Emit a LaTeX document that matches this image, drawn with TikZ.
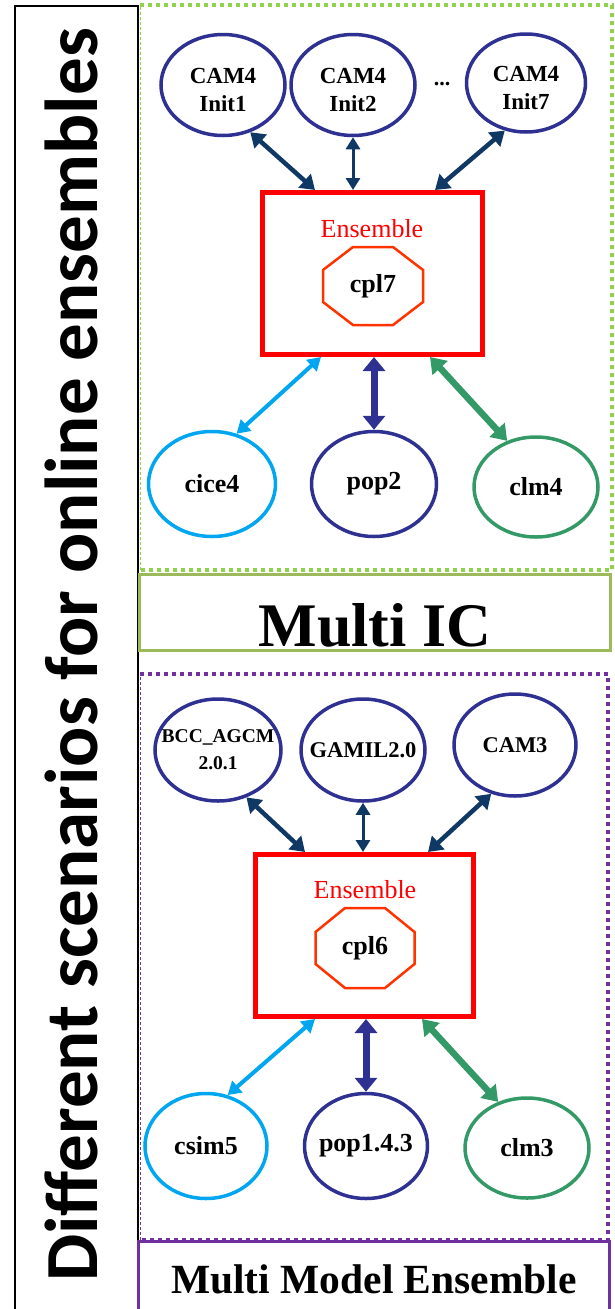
\documentclass[tikz,border=0pt]{standalone}
\usepackage{fontspec}
\setmainfont{Liberation Serif}
\newfontfamily\calib{Carlito}
\usetikzlibrary{shapes.geometric,arrows.meta,calc}
\definecolor{navy}{RGB}{46,49,146}
\definecolor{darrow}{RGB}{16,56,100}
\definecolor{lblue}{RGB}{0,166,240}
\definecolor{mgreen}{RGB}{51,153,102}
\definecolor{dgreen}{RGB}{146,208,80}
\definecolor{sgreen}{RGB}{155,187,89}
\definecolor{purp}{RGB}{112,48,160}
\definecolor{octred}{RGB}{255,51,0}
\newcommand\zw[1]{\makebox[0pt]{#1}}
\newcommand\topline[1]{\makebox[0pt]{\rule{0pt}{26pt}#1}}
\begin{document}
\begin{tikzpicture}[x=1pt,y=-1pt,
  mdl/.style={ellipse,draw=navy,line width=3.5pt,inner sep=0pt,align=center,
    font=\bfseries\fontsize{23}{28}\selectfont,minimum width=124pt,minimum height=101pt},
  lowmdl/.style={mdl,font=\bfseries\fontsize{26}{28}\selectfont,minimum width=124pt,minimum height=104pt},
  ensbox/.style={draw=red,line width=5pt,inner sep=0pt,minimum width=220pt,minimum height=162pt},
  enslabel/.style={anchor=base,text=red,inner sep=0pt,font=\fontsize{26}{26}\selectfont},
  cpllabel/.style={inner sep=0pt,font=\bfseries\fontsize{26}{26}\selectfont},
  octo/.style={draw=octred,line width=2.5pt,line join=miter},
  navarr/.style={draw=darrow,line width=4.5pt,{Triangle[width=18pt,length=14pt]}-{Triangle[width=18pt,length=14pt]}},
  navthin/.style={draw=darrow,line width=3pt,{Triangle[width=14pt,length=12pt]}-{Triangle[width=14pt,length=12pt]}},
  bluearr/.style={draw=lblue,line width=4pt,{Triangle[width=15pt,length=13pt]}-{Triangle[width=15pt,length=13pt]}},
  poparr/.style={draw=navy,line width=7pt,{Triangle[width=22pt,length=14pt]}-{Triangle[width=22pt,length=14pt]}},
  grarr/.style={draw=mgreen,line width=6.5pt,{Triangle[width=20pt,length=15pt]}-{Triangle[width=20pt,length=15pt]}},
  dotthick/.style={line width=4pt,dash pattern=on 4pt off 4pt},
  dotthin/.style={line width=1pt,dash pattern=on 3pt off 2pt}
]
\useasboundingbox (0,0) rectangle (615,1309);

% left title frame
\draw[line width=1.5pt] (15,6) rectangle (138,1330);
\node[rotate=90,anchor=base,inner sep=0pt,font=\calib\bfseries\fontsize{75}{75}\selectfont] (title) at (97,655) {Different scenarios for online ensembles};

% ---------- Multi IC ----------
\draw[dgreen,dotthick] (140,5) -- (612,5) -- (612,570) -- (140,570);
\draw[dgreen,dotthin] (140,570) -- (140,5);

\node[mdl] (i1) at (223,85) {\topline{CAM4}\\\zw{Init1}};
\node[mdl] (i2) at (353,85) {\topline{CAM4}\\\zw{Init2}};
\node[inner sep=0pt,font=\bfseries\fontsize{22}{22}\selectfont] (dots) at (442,84) {...};
\node[mdl,minimum width=119pt,minimum height=98pt] (i7) at (526,83) {\topline{CAM4}\\\zw{Init7}};

\node[ensbox] (ens1) at (372.5,273.5) {};
\node[enslabel] (el1) at (372,237) {Ensemble};
\node[cpllabel] (cpl7) at (373,286) {cpl7};
\draw[octo,shift={(cpl7.center)}] (-20,-39) -- (20,-39) -- (50,-16) -- (50,16) -- (20,39) -- (-20,39) -- (-50,16) -- (-50,-16) -- cycle;

\node[lowmdl,draw=lblue,minimum width=127pt,minimum height=105pt] (c4) at (212,484) {\zw{cice4}};
\node[lowmdl,minimum width=125pt,minimum height=105pt] (p2) at (374,484) {\zw{pop2}};
\node[lowmdl,draw=mgreen,minimum width=124pt,minimum height=100pt] (l4) at (536,487) {\zw{clm4}};

\draw[navarr] (i1.-60) -- ($(ens1.north)+(-57.5,0)$);
\draw[navthin] (i2.south) -- (i2.south |- ens1.north);
\draw[navarr] (i7.-114) -- ($(ens1.north)+(62.5,0)$);
\draw[bluearr] ($(ens1.south)+(-51.5,0)$) -- (c4.64);
\draw[poparr] (p2.north |- ens1.south) -- (p2.north);
\draw[grarr] ($(ens1.south)+(57.5,0)$) -- (l4.122);

\node[draw=sgreen,line width=3pt,inner sep=0pt,minimum width=471pt,minimum height=76pt,
  text height=68pt,text depth=0pt,font=\bfseries\fontsize{62}{62}\selectfont] (mic) at (375,612) {Multi IC};

% ---------- Multi Model Ensemble ----------
\draw[purp,dotthick] (140,674) -- (608,674) -- (608,1240) -- (140,1240);
\draw[purp,dotthin] (140,1240) -- (140,674);

\node[mdl,font=\bfseries\fontsize{19.5}{27}\selectfont,minimum width=126pt,minimum height=102pt] (bcc) at (218,750) {\zw{BCC\_AGCM}\\\zw{2.0.1}};
\node[mdl,font=\bfseries\fontsize{22.5}{26}\selectfont,minimum width=124pt,minimum height=102pt] (gam) at (363,750) {\zw{GAMIL2.0}};
\node[mdl,font=\bfseries\fontsize{22.5}{26}\selectfont,minimum width=122pt,minimum height=102pt] (cam3) at (515,745) {\zw{CAM3}};

\node[ensbox,minimum width=218pt] (ens2) at (364.5,935.5) {};
\node[enslabel] (el2) at (365,898) {Ensemble};
\node[cpllabel] (cpl6) at (365,948) {cpl6};
\draw[octo,shift={(cpl6.center)}] (-20,-40) -- (20,-40) -- (49.5,-16) -- (49.5,16) -- (20,40) -- (-20,40) -- (-49.5,16) -- (-49.5,-16) -- cycle;

\node[lowmdl,draw=lblue,minimum width=122pt,minimum height=105pt] (cs5) at (206,1146) {\zw{csim5}};
\node[lowmdl,minimum width=123pt,minimum height=105pt] (p143) at (366,1146) {\zw{pop1.4.3}};
\node[lowmdl,draw=mgreen,minimum width=124pt,minimum height=100pt] (cl3) at (527,1148) {\zw{clm3}};

\draw[navarr] (bcc.-59) -- ($(ens2.north)+(-59.5,0)$);
\draw[navthin] (gam.south) -- (gam.south |- ens2.north);
\draw[navarr] (cam3.-116) -- ($(ens2.north)+(63.5,0)$);
\draw[bluearr] ($(ens2.south)+(-49.5,0)$) -- (cs5.67);
\draw[poparr] (p143.north |- ens2.south) -- (p143.north);
\draw[grarr] ($(ens2.south)+(57.5,0)$) -- (cl3.122);

\node[draw=purp,line width=3pt,inner sep=0pt,minimum width=471pt,minimum height=80pt,
  text height=30pt,text depth=6pt,font=\bfseries\fontsize{41.5}{41.5}\selectfont] (mme) at (374,1281) {Multi Model Ensemble};
\end{tikzpicture}
\end{document}
